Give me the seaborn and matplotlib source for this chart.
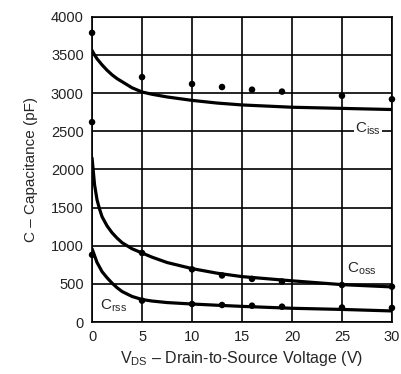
import pandas as pd
import matplotlib.pyplot as plt
import seaborn as sns

# curve readings (V, pF)
curve_v = [0, 0.25, 0.5, 0.75, 1, 1.5, 2, 2.5, 3, 4, 5, 6, 7.5, 10, 12.5, 15, 20, 25, 30]
ciss_curve = [3560, 3500, 3450, 3410, 3370, 3300, 3240, 3190, 3150, 3070, 3015, 2985, 2950,
              2905, 2870, 2845, 2815, 2800, 2785]
coss_curve = [2150, 1800, 1600, 1480, 1380, 1260, 1170, 1100, 1040, 960, 905, 850, 780,
              700, 640, 595, 540, 490, 460]
crss_curve = [960, 870, 780, 720, 660, 580, 510, 450, 400, 335, 295, 275, 255,
              236, 220, 205, 180, 165, 145]

# measured points
ciss_v = [0, 0, 5, 10, 13, 16, 19, 25, 30]
ciss_pts = [3790, 2620, 3210, 3120, 3080, 3045, 3020, 2965, 2920]
coss_v = [5, 10, 13, 16, 19, 25, 30]
coss_pts = [905, 690, 610, 565, 530, 485, 463]
crss_v = [0, 5, 10, 13, 16, 19, 25, 30]
crss_pts = [880, 280, 236, 223, 214, 201, 190, 185]

sns.set_style('white')
plt.rcParams['font.family'] = ['Liberation Sans', 'DejaVu Sans']
plt.rcParams['mathtext.fontset'] = 'custom'
plt.rcParams['mathtext.rm'] = 'Liberation Sans'

fig = plt.figure(figsize=(4.02, 3.74), dpi=100)
ax = fig.add_axes([0.229, 0.139, 0.746, 0.816])

for vals in [ciss_curve, coss_curve, crss_curve]:
    df = pd.DataFrame({'V': curve_v, 'C': vals})
    sns.lineplot(data=df, x='V', y='C', color='black', linewidth=2.3,
                 estimator=None, ax=ax, zorder=4)

for v, c in [(ciss_v, ciss_pts), (coss_v, coss_pts), (crss_v, crss_pts)]:
    sns.scatterplot(x=v, y=c, color='black', s=22, edgecolor='none',
                    ax=ax, zorder=5, clip_on=False)

ax.set_xlim(0, 30)
ax.set_ylim(0, 4000)
ax.set_xticks(range(0, 31, 5))
ax.set_yticks(range(0, 4001, 500))
ax.grid(True, color='black', linewidth=1.2)
ax.set_axisbelow(True)
for s in ax.spines.values():
    s.set_color('black')
    s.set_linewidth(1.2)
ax.tick_params(length=0, labelsize=10.5, pad=6, colors='#222222')

ax.text(27.6, 2530, r'C$_{\mathrm{iss}}$', fontsize=11, ha='center', va='center',
        bbox=dict(facecolor='white', edgecolor='none', pad=1), zorder=6)
ax.text(27.0, 700, r'C$_{\mathrm{oss}}$', fontsize=11, ha='center', va='center', zorder=6)
ax.text(2.1, 220, r'C$_{\mathrm{rss}}$', fontsize=11, ha='center', va='center', zorder=6)

ax.set_xlabel(r'V$_{\mathrm{DS}}$ – Drain-to-Source Voltage (V)', fontsize=11.5, labelpad=3)
ax.set_ylabel('C – Capacitance (pF)', fontsize=11, labelpad=9)

plt.savefig('out.png', dpi=100)
